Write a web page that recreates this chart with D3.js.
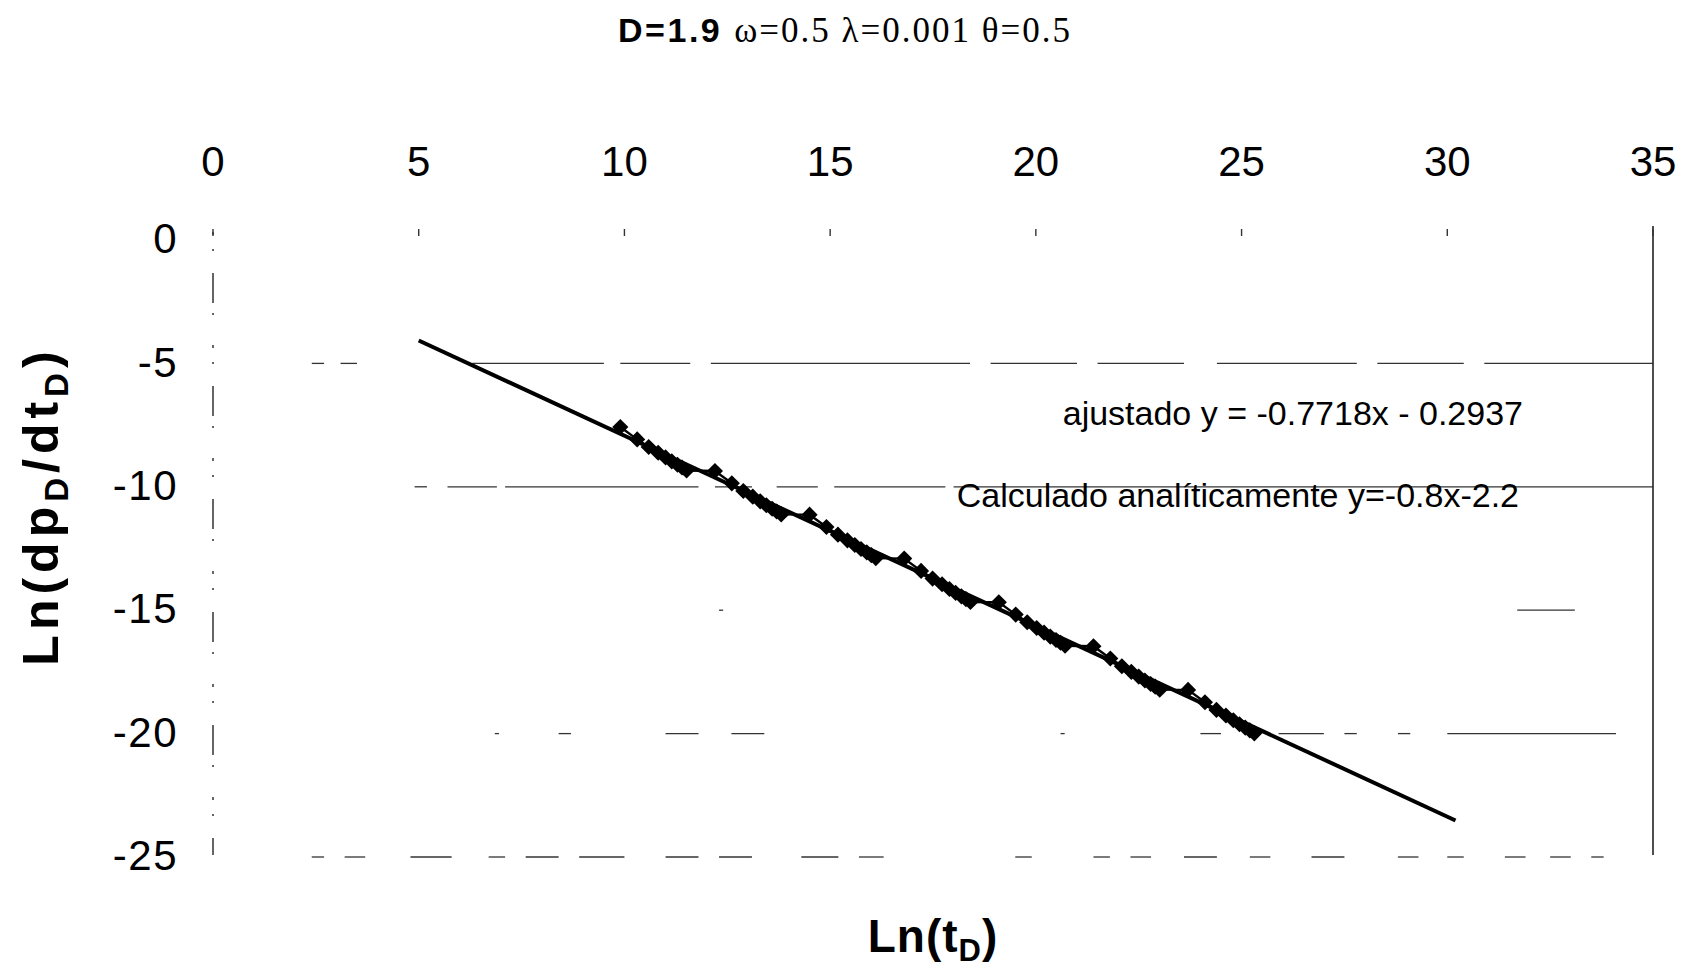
<!DOCTYPE html>
<html>
<head>
<meta charset="utf-8">
<script src="https://cdn.jsdelivr.net/npm/d3@7"></script>
<style>
  body { margin: 0; background: #fff; }
  text { fill: #000; }
</style>
</head>
<body>
<div id="wrapper"></div>
<script>
var width = 1688, height = 975;
var plot = {left: 213, right: 1653, top: 238, bottom: 855};

// axis ticks
var xTicks = [0, 5, 10, 15, 20, 25, 30, 35];
var yTicks = [0, -5, -10, -15, -20, -25];

// Ln(tD) and Ln(dpD/dtD) of the computed points
var lnT = [
  9.90, 10.31, 10.59, 10.82, 11.00, 11.15, 11.29, 11.40, 11.51,
  12.20, 12.61, 12.89, 13.12, 13.30, 13.45, 13.59, 13.70, 13.81,
  14.50, 14.91, 15.19, 15.42, 15.60, 15.75, 15.89, 16.00, 16.11,
  16.80, 17.21, 17.49, 17.72, 17.90, 18.05, 18.19, 18.30, 18.41,
  19.10, 19.51, 19.79, 20.02, 20.20, 20.35, 20.49, 20.60, 20.71,
  21.40, 21.81, 22.09, 22.32, 22.50, 22.65, 22.79, 22.90, 23.01,
  23.70, 24.11, 24.39, 24.62, 24.80, 24.95, 25.09, 25.20, 25.31
];
var lnDp = [
  -7.66, -8.16, -8.47, -8.70, -8.89, -9.05, -9.19, -9.30, -9.42,
  -9.44, -9.94, -10.25, -10.48, -10.67, -10.83, -10.97, -11.08, -11.20,
  -11.21, -11.71, -12.02, -12.25, -12.44, -12.60, -12.74, -12.85, -12.97,
  -12.99, -13.49, -13.80, -14.03, -14.22, -14.38, -14.52, -14.63, -14.75,
  -14.76, -15.26, -15.57, -15.80, -15.99, -16.15, -16.29, -16.40, -16.52,
  -16.54, -17.04, -17.35, -17.58, -17.77, -17.93, -18.07, -18.18, -18.30,
  -18.31, -18.81, -19.12, -19.35, -19.54, -19.70, -19.84, -19.95, -20.07
];

// least squares fit
var fitSlope = -0.7718, fitIntercept = -0.2937;
var fitRange = [5, 30.2];

var labels = ["ajustado y = -0.7718x - 0.2937", "Calculado analíticamente y=-0.8x-2.2"];

// pieces of each gridline that survived the print (in x units)
var gridPieces = {
  "-5": [[2.4, 2.7], [3.1, 3.5], [6.3, 9.5], [9.9, 11.6], [12.1, 18.4], [18.9, 21.0], [21.5, 23.6], [24.4, 27.8], [28.3, 30.4], [30.9, 35]],
  "-10": [[4.9, 5.2], [5.7, 6.9], [7.1, 11.8], [12.2, 13.1], [13.7, 14.7], [15.1, 17.8], [18.0, 35]],
  "-15": [[12.3, 12.4], [31.7, 33.1]],
  "-20": [[6.85, 6.95], [8.4, 8.7], [11.0, 11.8], [12.6, 13.4], [20.6, 20.7], [24.0, 24.5], [25.9, 27.0], [27.5, 27.8], [28.8, 29.1], [30.0, 34.1]],
  "-25": [[2.4, 2.7], [3.2, 3.7], [4.8, 5.8], [6.7, 7.1], [7.6, 8.4], [8.9, 10.0], [11.0, 11.8], [12.3, 13.1], [14.3, 15.2], [15.7, 16.3], [19.5, 19.9], [21.4, 21.8], [22.3, 22.8], [23.6, 24.4], [25.2, 25.7], [26.7, 27.5], [28.8, 29.3], [30.0, 30.4], [31.4, 31.9], [32.5, 33.0], [33.5, 33.8]]
};

var svg = d3.select("#wrapper").append("svg")
  .attr("width", width)
  .attr("height", height)
  .style("font-family", "'Liberation Sans', Arial, sans-serif");

var x = d3.scaleLinear().domain([0, 35]).range([plot.left, plot.right]);
var y = d3.scaleLinear().domain([0, -25]).range([plot.top, plot.bottom]);

// title
var title = svg.append("text")
  .attr("x", 845)
  .attr("y", 42)
  .attr("text-anchor", "middle");
title.append("tspan")
  .style("font-weight", "bold")
  .style("font-size", "34px")
  .style("letter-spacing", "2.5px")
  .text("D=1.9 ");
title.append("tspan")
  .style("font-family", "'Liberation Serif', 'Times New Roman', serif")
  .style("font-size", "35px")
  .style("letter-spacing", "2px")
  .text("ω=0.5 λ=0.001 θ=0.5");

// gridlines, drawn piece by piece
Object.keys(gridPieces).forEach(function(k) {
  svg.append("g")
    .selectAll("line")
    .data(gridPieces[k])
    .enter()
    .append("line")
    .attr("x1", function(d) { return x(d[0]); })
    .attr("x2", function(d) { return x(d[1]); })
    .attr("y1", y(+k) + 2)
    .attr("y2", y(+k) + 2)
    .attr("stroke", "#333")
    .attr("stroke-width", 1.3);
});

// left border dotted, right border solid
svg.append("line")
  .attr("x1", x(0)).attr("x2", x(0))
  .attr("y1", y(0) - 6).attr("y2", y(-25))
  .attr("stroke", "#333")
  .attr("stroke-width", 1.5)
  .attr("stroke-dasharray", "3,14,2,22,30,10,2,30");
svg.append("line")
  .attr("x1", x(35)).attr("x2", x(35))
  .attr("y1", y(0) - 12).attr("y2", y(-25))
  .attr("stroke", "#222")
  .attr("stroke-width", 1.6);

// small tick marks on the top edge
svg.append("g")
  .selectAll("line")
  .data(xTicks)
  .enter()
  .append("line")
  .attr("x1", function(d) { return x(d); })
  .attr("x2", function(d) { return x(d); })
  .attr("y1", y(0) - 9)
  .attr("y2", y(0) - 2)
  .attr("stroke", "#333")
  .attr("stroke-width", 1.4);

// x tick labels on top
svg.append("g")
  .selectAll("text")
  .data(xTicks)
  .enter()
  .append("text")
  .attr("x", function(d) { return x(d); })
  .attr("y", 176)
  .attr("text-anchor", "middle")
  .style("font-size", "42px")
  .text(function(d) { return d; });

// y tick labels
svg.append("g")
  .selectAll("text")
  .data(yTicks)
  .enter()
  .append("text")
  .attr("x", 178)
  .attr("y", function(d) { return y(d); })
  .attr("dy", "0.36em")
  .attr("text-anchor", "end")
  .style("font-size", "42px")
  .style("letter-spacing", "1.5px")
  .text(function(d) { return d; });

// fitted straight line
svg.append("line")
  .attr("x1", x(fitRange[0]))
  .attr("y1", y(fitSlope * fitRange[0] + fitIntercept))
  .attr("x2", x(fitRange[1]))
  .attr("y2", y(fitSlope * fitRange[1] + fitIntercept))
  .attr("stroke", "#000")
  .attr("stroke-width", 4);

// computed points
var pts = lnT.map(function(d, i) { return [d, lnDp[i]]; });

svg.append("path")
  .datum(pts)
  .attr("fill", "none")
  .attr("stroke", "#000")
  .attr("stroke-width", 2.4)
  .attr("d", d3.line()
    .x(function(d) { return x(d[0]); })
    .y(function(d) { return y(d[1]); }));

svg.append("g")
  .selectAll("path")
  .data(pts)
  .enter()
  .append("path")
  .attr("d", d3.symbol(d3.symbolSquare).size(130))
  .attr("transform", function(d) { return "translate(" + x(d[0]) + "," + y(d[1]) + ") rotate(45)"; })
  .attr("fill", "#000");

// equation labels
svg.append("text")
  .attr("x", 1523)
  .attr("y", 425)
  .attr("text-anchor", "end")
  .style("font-size", "34px")
  .text(labels[0]);
svg.append("text")
  .attr("x", 1519)
  .attr("y", 507)
  .attr("text-anchor", "end")
  .style("font-size", "34px")
  .text(labels[1]);

// axis titles
var xt = svg.append("text")
  .attr("x", 933)
  .attr("y", 952)
  .attr("text-anchor", "middle")
  .style("font-size", "46px")
  .style("font-weight", "bold")
  .style("letter-spacing", "1px");
xt.append("tspan").text("Ln(t");
xt.append("tspan").attr("dy", 9).style("font-size", "31px").text("D");
xt.append("tspan").attr("dy", -9).text(")");

var yt = svg.append("text")
  .attr("transform", "translate(58,506) rotate(-90)")
  .attr("text-anchor", "middle")
  .style("font-size", "50px")
  .style("font-weight", "bold")
  .style("letter-spacing", "5px");
yt.append("tspan").text("Ln(dp");
yt.append("tspan").attr("dy", 10).style("font-size", "33px").text("D");
yt.append("tspan").attr("dy", -10).text("/dt");
yt.append("tspan").attr("dy", 10).style("font-size", "33px").text("D");
yt.append("tspan").attr("dy", -10).text(")");
</script>
</body>
</html>
